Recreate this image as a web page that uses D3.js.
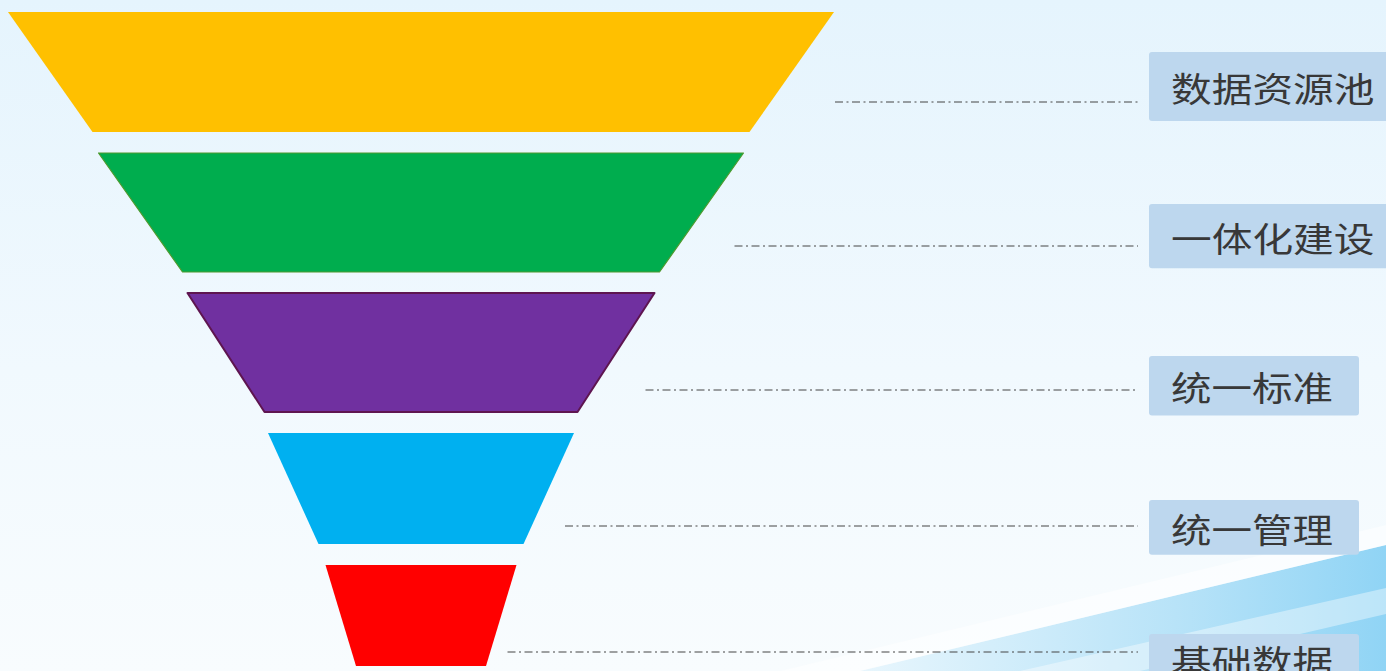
<!DOCTYPE html>
<html>
<head>
<meta charset="utf-8">
<script src="https://cdn.jsdelivr.net/npm/d3@7"></script>
<style>
  html, body { margin: 0; padding: 0; overflow: hidden; }
  #wrapper { width: 1386px; height: 671px; }
</style>
</head>
<body>
<div id="wrapper"></div>
<script>
// data
const stages = ["数据资源池", "一体化建设", "统一标准", "统一管理", "基础数据"]
const topWidths = [826, 645, 467, 306, 191]
const bottomWidths = [657, 477, 313, 205, 130]
const stageHeights = [120, 119, 119, 111, 101]
const stageColors = ["#FFC000", "#00AD4E", "#7030A0", "#00B0F0", "#FF0000"]
const stageStrokes = ["none", "#4E9A2E", "#5E1550", "none", "none"]

drawFunnel()

function drawFunnel() {
  const dimensions = {
    width: 1386,
    height: 671,
    top: 12,
    centerX: 421,
    gap: 21,
  }

  const svg = d3.select("#wrapper")
    .append("svg")
      .attr("width", dimensions.width)
      .attr("height", dimensions.height)

  const defs = svg.append("defs")

  // background gradient
  const bg = defs.append("linearGradient")
    .attr("id", "bg").attr("x1", 0).attr("y1", 0).attr("x2", 0).attr("y2", 1)
  bg.append("stop").attr("offset", "0%").attr("stop-color", "#E5F4FD")
  bg.append("stop").attr("offset", "55%").attr("stop-color", "#F1F9FE")
  bg.append("stop").attr("offset", "100%").attr("stop-color", "#F8FCFE")

  const swoosh = defs.append("linearGradient")
    .attr("id", "swoosh").attr("x1", 0).attr("y1", 0).attr("x2", 1).attr("y2", 0)
  swoosh.append("stop").attr("offset", "0%").attr("stop-color", "#E8F6FD")
  swoosh.append("stop").attr("offset", "60%").attr("stop-color", "#B8E3F8")
  swoosh.append("stop").attr("offset", "100%").attr("stop-color", "#90D4F5")

  svg.append("rect")
    .attr("width", dimensions.width)
    .attr("height", dimensions.height)
    .attr("fill", "url(#bg)")

  // swoosh at the bottom right
  svg.append("path")
    .attr("d", "M860,671 L1386,545 L1386,671 Z")
    .attr("fill", "url(#swoosh)")
  svg.append("path")
    .attr("d", "M1020,671 L1386,588 L1386,614 L1140,671 Z")
    .attr("fill", "#ffffff")
    .attr("opacity", 0.4)
  svg.append("path")
    .attr("d", "M780,671 L1386,525 L1386,545 L860,671 Z")
    .attr("fill", "#ffffff")
    .attr("opacity", 0.5)

  // scales
  const n = stages.length
  const total = d3.sum(stageHeights) + dimensions.gap * (n - 1)
  const yScale = d3.scaleLinear()
    .domain([0, total])
    .range([dimensions.top, dimensions.top + total])
  const wScale = d3.scaleLinear()
    .domain([0, d3.max(topWidths)])
    .range([0, d3.max(topWidths)])

  const rows = stages.map((name, i) => {
    const start = d3.sum(stageHeights.slice(0, i)) + dimensions.gap * i
    return {
      name,
      i,
      y0: yScale(start),
      y1: yScale(start + stageHeights[i]),
      tw: wScale(topWidths[i]),
      bw: wScale(bottomWidths[i]),
    }
  })

  // annotation layout, interpolated along the stages
  const lineLift = d3.scaleLinear().domain([0, n - 1]).range([30, 14])
  const boxLift = d3.scaleLinear().domain([0, n - 1]).range([45.5, 7])
  const boxHeight = d3.scaleLinear().domain([0, n - 1]).range([69, 50])
  const lineStart = d3.scaleLinear().domain([0, n - 1]).range([1, 2])

  // draw funnel
  const cx = dimensions.centerX
  svg.append("g")
    .selectAll("path")
    .data(rows)
    .enter()
      .append("path")
      .attr("d", d => `M${cx - d.tw / 2},${d.y0} L${cx + d.tw / 2},${d.y0} L${cx + d.bw / 2},${d.y1} L${cx - d.bw / 2},${d.y1} Z`)
      .attr("fill", d => stageColors[d.i])
      .attr("stroke", d => stageStrokes[d.i])
      .attr("stroke-width", d => d.i === 2 ? 2 : 1.2)
      .attr("stroke-linejoin", "round")

  // leader lines
  const boxX = 1149
  svg.append("g")
    .selectAll("line")
    .data(rows)
    .enter()
      .append("line")
      .attr("x1", d => cx + d.tw / 2 - (d.i === 0 ? -1 : 9))
      .attr("x2", boxX - 11)
      .attr("y1", d => d.y1 - lineLift(d.i))
      .attr("y2", d => d.y1 - lineLift(d.i))
      .attr("stroke", "#444")
      .attr("stroke-width", 1)
      .attr("stroke-dasharray", "8,3.5,2,3.5")

  // label boxes
  const charW = 41.5
  const labels = svg.append("g")
    .selectAll("g")
    .data(rows)
    .enter()
      .append("g")
      .attr("transform", d => `translate(${boxX}, ${d.y1 - boxLift(d.i)})`)

  labels.append("rect")
    .attr("x", 0)
    .attr("y", d => -boxHeight(d.i) / 2)
    .attr("width", d => d.name.length * charW + 44)
    .attr("height", d => boxHeight(d.i))
    .attr("rx", 3)
    .attr("fill", "#BDD7EE")

  labels.append("text")
    .attr("x", 22)
    .attr("y", 1)
    .attr("dominant-baseline", "central")
    .attr("font-family", "Noto Sans CJK SC")
    .attr("font-size", 34)
    .attr("fill", "#383838")
    .attr("textLength", d => d.name.length * charW - 4)
    .attr("lengthAdjust", "spacingAndGlyphs")
    .text(d => d.name)
}
</script>
</body>
</html>
